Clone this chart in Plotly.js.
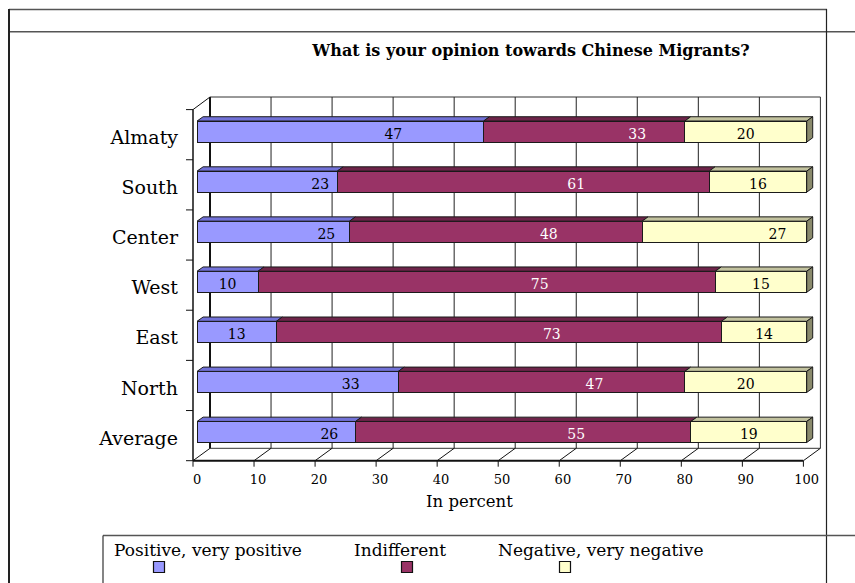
<!DOCTYPE html>
<html><head><meta charset="utf-8">
<script src="https://cdn.plot.ly/plotly-3.0.1.min.js"></script>
<style>html,body{margin:0;padding:0;background:#fff}#chart{width:855px;height:583px}</style>
</head><body><div id="chart"></div>
<script>
// ---- data ----
const categories = ["Almaty", "South", "Center", "West", "East", "North", "Average"];
const seriesNames = ["Positive, very positive", "Indifferent", "Negative, very negative"];
const positive = [47, 23, 25, 10, 13, 33, 26];
const indifferent = [33, 61, 48, 75, 73, 47, 55];
const negative = [20, 16, 27, 15, 14, 20, 19];
const xTickValues = [0, 10, 20, 30, 40, 50, 60, 70, 80, 90, 100];
const xTickLabels = ["0", "10", "20", "30", "40", "50", "60", "70", "80", "90", "100"];
const chartTitle = "What is your opinion towards Chinese Migrants?";
const xTitle = "In percent";

// ---- styling / geometry ----
const FONT = "DejaVu Serif";
const L = 191, PW = 634, T = 97, PH = 364;
const XR = [-1, 103], YR = [6.58, -0.69];
const pxPerX = PW / (XR[1] - XR[0]);
const pxPerY = PH / (YR[0] - YR[1]);
const px = x => (x - L) / PW;          // pixel -> paper x
const py = y => 1 - (y - T) / PH;      // pixel -> paper y
const seriesValues = [positive, indifferent, negative];
const faceColors = ["#9999FF", "#993366", "#FFFFCC"];
const topColors = ["#7272D8", "#6E2449", "#C2C29E"];
const sideColor = "#8A8A6C";
const labelColors = ["#000000", "#ffffff", "#000000"];
const edge = "#1a1a1a";
const barW = 0.42;
const yIdx = categories.map((c, i) => i);

const shapes = [];
function pline(x0, y0, x1, y1, color, width, layer) {
  shapes.push({type: "line", xref: "paper", yref: "paper", x0: px(x0), y0: py(y0), x1: px(x1), y1: py(y1),
    line: {color: color || "#222", width: width || 1}, layer: layer || "below"});
}
// outer frame
pline(9, 9.5, 827, 9.5, "#555", 1.5, "above");
pline(9, 31.7, 855, 31.7, "#555", 1.5, "above");
pline(9, 9, 9, 583, "#222", 2, "above");
pline(826.5, 9, 826.5, 583, "#222", 1.2, "above");
pline(103, 535.5, 855, 535.5, "#555", 1.5, "above");
pline(103, 535.5, 103, 583, "#333", 1.2, "above");

// 3D box: back wall, floor, front axes
const backL = 210, backR = 820.4, backT = 97, backB = 448.3;
const frontL = 193, frontB = 460.7, frontTop = 109.6, step = 61.04;
pline(backL, backT, backR, backT, "#333", 1);
pline(backR, backT, backR, backB, "#333", 1);
pline(backL, backB, backR, backB, "#333", 1);
xTickValues.forEach((v, k) => {
  const gx = backL + step * k;
  if (k > 0 && k < xTickValues.length - 1) pline(gx, backT, gx, backB, "#222", 1);
  const fx = frontL + step * k;
  pline(fx, frontB, gx, backB, "#111", 1);
  pline(fx, frontB, fx, frontB + 6, "#111", 1);
});
pline(backL, backT, backL, backB, "#111", 2);
pline(frontL, frontB, frontL + step * 10, frontB, "#111", 2);
pline(frontL, frontTop, frontL, frontB, "#111", 1.5);
pline(frontL, frontTop, backL, backT, "#111", 1);
for (let k = 0; k <= categories.length; k++) {
  const ty = frontTop + k * (frontB - frontTop) / categories.length;
  pline(frontL - 7, ty, frontL, ty, "#111", 1);
}

// bar top / side faces (3D look), from data
const dx = 6 / pxPerX, dy = 4.3 / pxPerY;
const starts = seriesValues.map(() => []);
categories.forEach((c, i) => {
  let acc = 0;
  seriesValues.forEach((vals, s) => { starts[s][i] = acc; acc += vals[i]; });
});
seriesValues.forEach((vals, s) => {
  vals.forEach((v, i) => {
    const x0 = starts[s][i], x1 = x0 + v, yt = i - barW / 2, yb = i + barW / 2;
    shapes.push({type: "path", xref: "x", yref: "y", layer: "above",
      path: `M${x0},${yt} L${x1},${yt} L${x1 + dx},${yt - dy} L${x0 + dx},${yt - dy} Z`,
      fillcolor: topColors[s], line: {color: edge, width: 1}});
    if (s === seriesValues.length - 1) {
      shapes.push({type: "path", xref: "x", yref: "y", layer: "above",
        path: `M${x1},${yt} L${x1 + dx},${yt - dy} L${x1 + dx},${yb - dy} L${x1},${yb} Z`,
        fillcolor: sideColor, line: {color: edge, width: 1}});
    }
  });
});

// custom legend (text above, swatch below)
const legendTextX = [111.7, 351.7, 496];
const legendSwatchX = [159, 407, 565];
const annotations = [];
seriesNames.forEach((n, s) => {
  annotations.push({xref: "paper", yref: "paper", x: px(legendTextX[s]), y: py(549.5), xanchor: "left", yanchor: "middle",
    text: n, showarrow: false, font: {family: FONT, size: 17, color: "#000"}});
  shapes.push({type: "rect", xref: "paper", yref: "paper", layer: "above",
    x0: px(legendSwatchX[s] - 5.5), x1: px(legendSwatchX[s] + 5.5), y0: py(561.5), y1: py(572.5),
    fillcolor: faceColors[s], line: {color: "#111", width: 1.2}});
});
annotations.push({xref: "paper", yref: "paper", x: px(469), y: py(501), xanchor: "center", yanchor: "middle",
  text: xTitle, showarrow: false, font: {family: FONT, size: 16.5, color: "#000"}});

// traces
const traces = seriesValues.map((vals, s) => ({
  type: "bar", orientation: "h", x: vals, y: yIdx, name: seriesNames[s], width: barW,
  marker: {color: faceColors[s], line: {color: edge, width: 1}}, showlegend: false,
  hovertemplate: "%{x}<extra>" + seriesNames[s] + "</extra>"
}));
seriesValues.forEach((vals, s) => {
  traces.push({
    type: "scatter", mode: "text", showlegend: false, hoverinfo: "skip",
    x: vals.map((v, i) => starts[s][i] + v / 2 + (v > 21 ? 53 / pxPerX : 0)),
    y: yIdx.map(i => i + 3.5 / pxPerY),
    text: vals.map(String),
    textfont: {family: FONT, size: 14, color: labelColors[s]}
  });
});

const layout = {
  width: 855, height: 583,
  margin: {l: L, r: 855 - L - PW, t: T, b: 583 - T - PH, autoexpand: false},
  paper_bgcolor: "#ffffff", plot_bgcolor: "rgba(0,0,0,0)",
  barmode: "stack",
  showlegend: false,
  title: {text: chartTitle, x: 531 / 855, xanchor: "center", xref: "container", y: 1 - 50 / 583, yanchor: "middle",
    font: {family: FONT, size: 16, weight: "bold", color: "#000"}},
  xaxis: {range: XR, showgrid: false, zeroline: false, showline: false, ticks: "",
    tickvals: xTickValues, ticktext: xTickLabels, tickfont: {family: FONT, size: 13, color: "#000"},
    ticklabelstandoff: 9, fixedrange: true},
  yaxis: {range: YR, showgrid: false, zeroline: false, showline: false, ticks: "",
    tickvals: yIdx, ticktext: categories, tickfont: {family: FONT, size: 19, color: "#000"},
    ticklabelstandoff: 12, ticklabelshift: -6, fixedrange: true},
  shapes: shapes,
  annotations: annotations,
  font: {family: FONT}
};
Plotly.newPlot("chart", traces, layout, {displayModeBar: false, staticPlot: false});
</script>
</body></html>
